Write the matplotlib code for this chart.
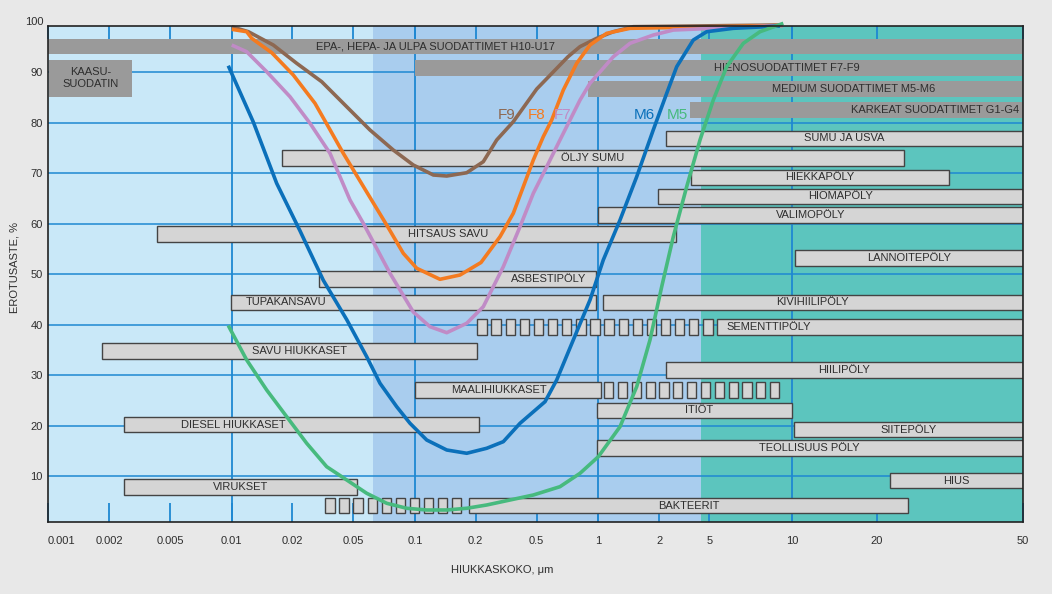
import numpy as np
import matplotlib
matplotlib.use('Agg')
import matplotlib.pyplot as plt
from matplotlib.ticker import FixedLocator, FixedFormatter, NullLocator
import matplotlib.transforms as mtransforms

plt.rcParams['font.family'] = ['Liberation Sans', 'DejaVu Sans']

# ---------------- axis definition (hand-drawn particle size axis) ----------------
tick_values = [0.001, 0.002, 0.005, 0.01, 0.02, 0.05, 0.1, 0.2, 0.5, 1, 2, 5, 10, 20, 50]
tick_labels = ['0.001', '0.002', '0.005', '0.01', '0.02', '0.05', '0.1', '0.2', '0.5',
               '1', '2', '5', '10', '20', '50']
tick_pos = [0, 61.3, 122.6, 184.0, 244.3, 305.6, 367.3, 428.0, 489.0, 550.6, 611.6,
            661.6, 744.3, 829.0, 975.0]
grid_x = [0.01, 0.1, 1, 10]
y_ticks = [10, 20, 30, 40, 50, 60, 70, 80, 90]

# background zones (μm)
zone_edges = [0.001, 0.0624, 4.3, 50]
zone_colors = ['#c9e8f8', '#a9cdee', '#5cc5be']

# ---------------- filter classes (dark bars) ----------------
filter_labels = ['EPA-, HEPA- JA ULPA SUODATTIMET H10-U17', 'KAASU-\nSUODATIN',
                 'HIENOSUODATTIMET F7-F9', 'MEDIUM SUODATTIMET M5-M6',
                 'KARKEAT SUODATTIMET G1-G4']
filter_start = [0.001, 0.00102, 0.1, 0.89, 3.5]
filter_end = [50, 0.0028, 50, 50, 50]
filter_low = [93.6, 85.2, 89.3, 85.2, 81.0]
filter_high = [96.6, 92.4, 92.4, 88.3, 84.2]
filter_label_x = [0.127, None, 9.59, 16.5, 28.8]

# ---------------- particle types (light bars) ----------------
particle_labels = ['SUMU JA USVA', 'ÖLJY SUMU', 'HIEKKAPÖLY', 'HIOMAPÖLY', 'VALIMOPÖLY',
                   'HITSAUS SAVU', 'LANNOITEPÖLY', 'ASBESTIPÖLY', 'TUPAKANSAVU',
                   'KIVIHIILIPÖLY', 'SEMENTTIPÖLY', 'SAVU HIUKKASET', 'HIILIPÖLY',
                   'MAALIHIUKKASET', 'ITIÖT', 'DIESEL HIUKKASET', 'SIITEPÖLY',
                   'TEOLLISUUS PÖLY', 'HIUS', 'VIRUKSET', 'BAKTEERIT']
particle_start = [2.25, 0.0179, 3.56, 1.96, 1.0, 0.00412, 10.25, 0.0301, 0.0099,
                  1.05, 5.35, 0.00185, 2.25, 0.1, 0.98, 0.00251, 10.19, 0.98, 21.7,
                  0.00251, 0.186]
particle_end = [50, 23.7, 31.5, 50, 50, 2.70, 50, 0.97, 0.97, 50, 50, 0.205, 50, 1.03,
                10, 0.209, 50, 50, 50, 0.0519, 24.3]
particle_y = [76.9, 73.0, 69.2, 65.4, 61.7, 58.0, 53.2, 49.1, 44.4, 44.4, 39.5, 34.75,
              31.05, 27.1, 23.0, 20.2, 19.2, 15.5, 9.1, 7.8, 4.15]
particle_label_x = [None, None, None, None, None, 0.1466, None, 0.572, 0.01866, None,
                    8.25, 0.02254, None, 0.2817, 4.14, 0.0102, None, None, None, None, 3.45]

# uncertain size ranges drawn as chains of small boxes
dash_start = [0.205, 1.067, 0.0329]
dash_end = [5.14, 8.99, 0.1697]
dash_count = [17, 13, 10]
dash_y = [39.5, 27.1, 4.15]

# ---------------- filter efficiency curves ----------------
f9_x = [0.01, 0.01211, 0.01613, 0.02145, 0.03118, 0.04531, 0.06032, 0.07835, 0.0981,
        0.1233, 0.1437, 0.1805, 0.2242, 0.2742, 0.3518, 0.5, 0.711, 0.814, 0.982, 1.186,
        1.488, 9.27]
f9_y = [99.05, 98.06, 95.42, 91.80, 88.15, 83.19, 78.58, 74.61, 71.64, 69.66, 69.46,
        70.11, 72.30, 76.60, 80.22, 86.7, 93.1, 95.1, 96.75, 98.06, 99.05, 99.4]

f8_x = [0.01, 0.01188, 0.01259, 0.01584, 0.02039, 0.0282, 0.03441, 0.04305, 0.05812,
        0.07275, 0.08767, 0.102, 0.133, 0.1672, 0.2166, 0.2881, 0.3518, 0.4089, 0.4752,
        0.5384, 0.592, 0.6745, 0.7843, 0.9108, 1.1, 1.434, 9.27]
f8_y = [98.53, 98.06, 96.75, 93.90, 89.48, 83.87, 79.23, 73.96, 66.29, 59.75, 54.14,
        51.17, 48.99, 49.84, 52.32, 57.43, 62.07, 67.34, 72.63, 77.25, 80.56, 86.50,
        91.80, 95.42, 97.74, 98.73, 99.3]

f7_x = [0.01, 0.01188, 0.01495, 0.01954, 0.02618, 0.03529, 0.0476, 0.05595, 0.07551,
        0.0981, 0.1187, 0.1437, 0.1805, 0.2242, 0.2479, 0.3028, 0.3891, 0.4752, 0.5597,
        0.6498, 0.7273, 0.8141, 0.9108, 1.186, 1.434, 1.867, 2.585, 5.17, 9.27]
f7_y = [95.42, 94.09, 90.13, 85.18, 79.91, 73.96, 64.70, 60.09, 50.18, 42.51, 39.60,
        38.41, 40.27, 43.56, 46.21, 51.49, 59.41, 66.03, 71.30, 76.61, 80.56, 84.52,
        87.83, 93.10, 95.76, 97.40, 98.39, 98.73, 99.3]

m6_x = [0.00962, 0.01282, 0.01677, 0.02254, 0.03193, 0.04531, 0.05812, 0.06749, 0.08142,
        0.09454, 0.1143, 0.1437, 0.1805, 0.2359, 0.3028, 0.3891, 0.5491, 0.626, 0.7546,
        0.9108, 1.058, 1.28, 1.547, 1.867, 2.291, 2.751, 3.729, 4.768, 6.115, 9.04]
m6_y = [91.32, 80.16, 68.01, 58.6, 48.8, 41.0, 33.65, 28.38, 23.74, 20.45, 17.14, 15.16,
        14.51, 15.50, 16.81, 20.45, 24.73, 29.03, 36.96, 44.89, 52.81, 60.74, 69.32,
        78.58, 85.85, 91.12, 96.41, 98.06, 98.73, 99.19]

m5_x = [0.00962, 0.01188, 0.01495, 0.01882, 0.02491, 0.03359, 0.04531, 0.05812, 0.07275,
        0.0911, 0.1143, 0.1437, 0.1805, 0.2359, 0.3348, 0.4752, 0.6498, 0.8141, 1.0,
        1.28, 1.547, 1.799, 2.09, 2.585, 3.304, 4.217, 5.17, 5.784, 6.649, 7.647, 9.3]
m5_y = [39.83, 33.00, 27.05, 21.76, 16.49, 11.85, 9.22, 6.58, 4.60, 3.61, 3.27, 3.27,
        3.61, 4.26, 5.25, 6.24, 7.89, 10.54, 13.83, 19.78, 27.71, 36.96, 47.52, 57.43,
        67.34, 76.60, 84.52, 91.12, 95.76, 98.06, 99.72]

curve_names = ['F9', 'F8', 'F7', 'M6', 'M5']
curve_colors = ['#8d6852', '#f47b20', '#c08bc6', '#0b70ba', '#47ba7e']
curve_label_x = [0.32, 0.5, 0.67, 1.68, 2.78]
curve_label_y = 81.5

# ---------------- drawing ----------------
LOG_T = np.log10(tick_values)


def fwd(x):
    x = np.asarray(x, dtype=float)
    return np.interp(np.log10(np.clip(x, 1e-9, None)), LOG_T, tick_pos)


def inv(p):
    p = np.asarray(p, dtype=float)
    return 10 ** np.interp(p, tick_pos, LOG_T)


W, H = 1052, 594
fig = plt.figure(figsize=(W / 100, H / 100), dpi=100, facecolor='#e8e8e8')
ax = fig.add_axes([47.7 / W, 1 - 522.3 / H, 975 / W, 496.6 / H])
ax.set_xscale('function', functions=(fwd, inv))
ax.set_xlim(0.001, 50)
ax.set_ylim(0.83, 99.25)

TXT = '#2e2e2e'
GRID = '#1e88d2'
BAR_H = 3.1

for i in range(3):
    ax.axvspan(zone_edges[i], zone_edges[i + 1], color=zone_colors[i], lw=0, zorder=0)
for yv in y_ticks:
    ax.axhline(yv, color=GRID, lw=1.1, zorder=1)
for xv in grid_x:
    ax.axvline(xv, color=GRID, lw=1.3, zorder=1)

# filter bars
for lab, s, e, lo, hi, lx in zip(filter_labels, filter_start, filter_end, filter_low,
                                 filter_high, filter_label_x):
    ax.barh((lo + hi) / 2, e - s, left=s, height=hi - lo, color='#9a9a9a', lw=0, zorder=2)
    if lx is None:
        lx = inv((fwd(s) + fwd(e)) / 2)
    ax.text(lx, (lo + hi) / 2, lab, ha='center', va='center', fontsize=8, color=TXT,
            linespacing=1.25, zorder=3)

# particle bars
for lab, s, e, yc, lx in zip(particle_labels, particle_start, particle_end, particle_y,
                             particle_label_x):
    ax.barh(yc, e - s, left=s, height=BAR_H, color='#d5d5d5', edgecolor='#444444',
            lw=1.0, zorder=3)
    if lx is None:
        lx = inv((fwd(s) + fwd(e)) / 2)
    ax.text(lx, yc, lab, ha='center', va='center', fontsize=8, color=TXT, zorder=4)

# chains of small boxes
BOX_FRAC = 0.66
for s, e, n, yc in zip(dash_start, dash_end, dash_count, dash_y):
    p0, p1 = fwd(s), fwd(e)
    period = (p1 - p0) / (n - 1 + BOX_FRAC)
    lefts = p0 + period * np.arange(n)
    rights = lefts + BOX_FRAC * period
    xl, xr = inv(lefts), inv(rights)
    ax.barh([yc] * n, xr - xl, left=xl, height=BAR_H, color='#d5d5d5',
            edgecolor='#444444', lw=1.0, zorder=3)

# curves
curves = [(f9_x, f9_y), (f8_x, f8_y), (f7_x, f7_y), (m6_x, m6_y), (m5_x, m5_y)]
for (cx, cy), col in zip(curves, curve_colors):
    ax.plot(cx, cy, color=col, lw=2.6, solid_joinstyle='round', solid_capstyle='butt',
            zorder=6, clip_on=False)
for name, col, lx in zip(curve_names, curve_colors, curve_label_x):
    ax.text(lx, curve_label_y, name, color=col, fontsize=11, ha='center', va='center',
            zorder=7)

# axes styling
for sp in ax.spines.values():
    sp.set_color('#222222')
    sp.set_linewidth(1.2)
    sp.set_zorder(8)

ax.xaxis.set_major_locator(FixedLocator(tick_values))
ax.xaxis.set_major_formatter(FixedFormatter(tick_labels))
ax.xaxis.set_minor_locator(NullLocator())
ax.tick_params(axis='x', which='major', direction='in', length=14, width=1.3,
               color=GRID, top=True, bottom=True, labelsize=8, labelcolor=TXT, pad=10)
xticks = ax.xaxis.get_major_ticks()
xticks[0].label1.set_horizontalalignment('left')
for t in xticks:
    t.tick2line.set_markersize(9)

ax.set_yticks(y_ticks)
ax.yaxis.set_minor_locator(NullLocator())
ax.tick_params(axis='y', which='major', length=0, labelsize=8, labelcolor=TXT, pad=3.5)
ax.text(-0.0045, 100, '100', transform=mtransforms.blended_transform_factory(
    ax.transAxes, ax.transData), ha='right', va='center', fontsize=8, color=TXT,
    clip_on=False)

fig.text(501.7 / W, 1 - 570 / H, 'HIUKKASKOKO, μm', ha='center', va='center',
         fontsize=8, color=TXT)
fig.text(15 / W, 1 - 268 / H, 'EROTUSASTE, %', ha='center', va='center', rotation=90,
         fontsize=8, color=TXT)

fig.savefig('out.png', dpi=100, facecolor=fig.get_facecolor())
